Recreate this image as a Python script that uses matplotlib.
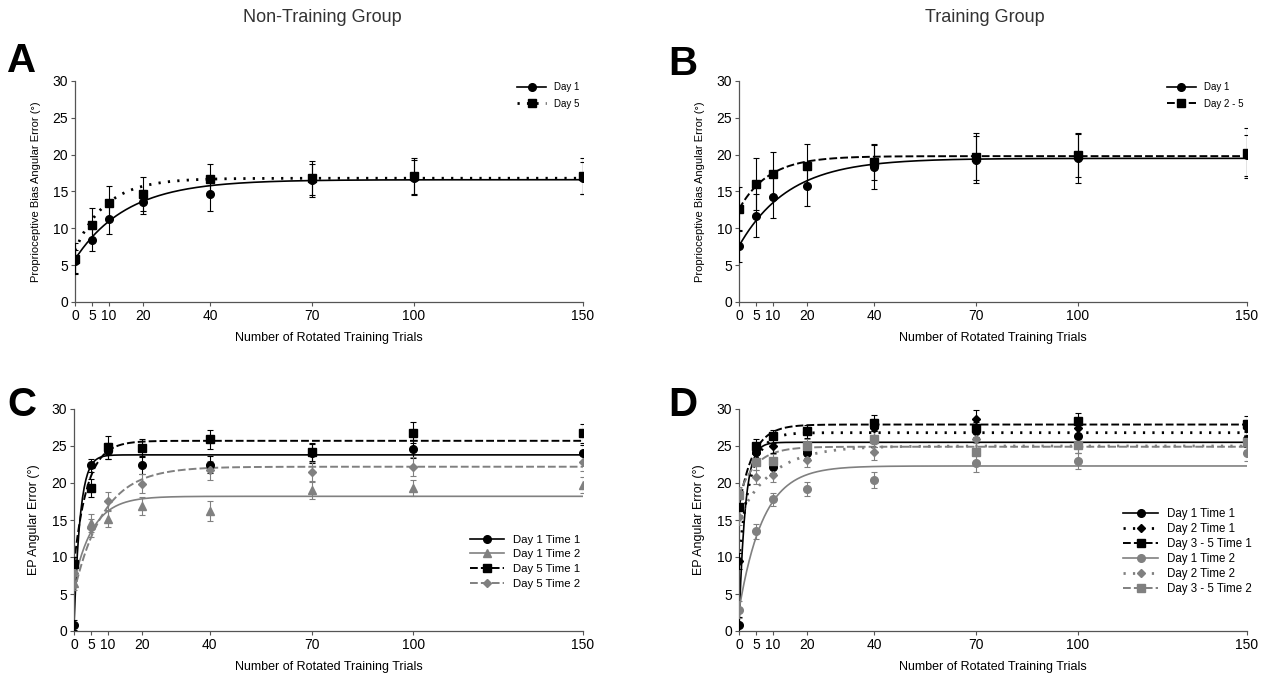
import matplotlib
matplotlib.use("Agg")
import matplotlib.pyplot as plt
import numpy as np

plt.rcParams["font.family"] = ["Liberation Sans", "DejaVu Sans"]

trials = [0, 5, 10, 20, 40, 70, 100, 150]

# panel A - non-training, proprioceptive bias
a_day1 = [5.5, 8.4, 11.3, 13.6, 14.6, 16.5, 16.9, 16.8]
a_day1_err = [1.5, 1.5, 2.1, 1.6, 2.3, 2.3, 2.4, 2.2]
a_day5 = [5.9, 10.4, 13.5, 14.7, 16.7, 16.8, 17.1, 17.1]
a_day5_err = [2.1, 2.3, 2.3, 2.3, 2.1, 2.3, 2.5, 2.5]

# panel B - training, proprioceptive bias
b_day1 = [7.6, 11.7, 14.3, 15.8, 18.3, 19.3, 19.5, 19.9]
b_day1_err = [2.2, 2.9, 2.9, 2.8, 3.0, 3.2, 3.4, 2.8]
b_day25 = [12.6, 16.0, 17.4, 18.5, 19.0, 19.7, 19.9, 20.2]
b_day25_err = [3.0, 3.5, 2.9, 2.9, 2.4, 3.2, 2.9, 3.4]

# panel C - non-training, EP error
c_d1t1 = [0.8, 22.4, 24.3, 22.4, 22.5, 24.0, 24.6, 24.0]
c_d1t1_err = [0.7, 0.9, 1.1, 1.2, 1.2, 1.3, 1.2, 1.2]
c_d1t2 = [6.5, 14.6, 15.1, 16.9, 16.2, 19.1, 19.3, 19.7]
c_d1t2_err = [1.0, 1.2, 1.1, 1.2, 1.4, 1.2, 1.1, 1.1]
c_d5t1 = [9.0, 19.3, 24.8, 24.7, 25.9, 24.2, 26.8, 26.7]
c_d5t1_err = [1.0, 1.2, 1.5, 1.2, 1.3, 1.2, 1.4, 1.3]
c_d5t2 = [7.8, 13.9, 17.6, 19.9, 21.7, 21.5, 22.2, 22.8]
c_d5t2_err = [1.1, 1.2, 1.2, 1.3, 1.3, 1.4, 1.3, 1.2]

# panel D - training, EP error
d_d1t1 = [0.8, 24.2, 22.2, 24.1, 25.9, 27.0, 26.3, 25.9]
d_d2t1 = [9.5, 24.0, 25.0, 24.3, 27.5, 28.7, 27.4, 27.5]
d_d35t1 = [16.8, 25.0, 26.3, 27.0, 28.1, 27.4, 28.4, 28.0]
d_d1t2 = [2.9, 13.5, 17.8, 19.2, 20.4, 22.7, 23.0, 24.0]
d_d2t2 = [15.4, 20.8, 21.1, 23.1, 24.2, 25.9, 25.2, 25.3]
d_d35t2 = [18.4, 22.8, 23.0, 25.0, 26.0, 24.2, 25.2, 25.5]
d_err = [1.1, 1.0, 0.9, 0.9, 1.1, 1.2, 1.1, 1.0]

# exponential fit parameters: (start, plateau, rate)
a_fits = [(5.8, 16.6, 0.065), (7.0, 16.8, 0.11)]
b_fits = [(7.6, 19.5, 0.068), (12.6, 19.8, 0.114)]
c_fits = [(0.8, 23.8, 0.55), (6.5, 18.2, 0.177), (9.0, 25.7, 0.25), (5.2, 22.2, 0.115)]
d_fits = [(0.7, 25.5, 0.55), (9.5, 26.8, 0.3), (16.7, 27.9, 0.24),
          (2.8, 22.3, 0.14), (15.3, 25.0, 0.1), (18.3, 24.9, 0.2)]

BLACK = "#000000"
GRAY = "#808080"
DOT = (0, (0.8, 2.6))
DASH = (0, (4, 1.6))
xs = np.linspace(0, 150, 600)


def fit_curve(p):
    y0, plat, k = p
    return plat - (plat - y0) * np.exp(-k * xs)


def series(ax, y, err, fit, color, marker, ls, lw, label, ms=5.5):
    ax.errorbar(trials, y, yerr=err, fmt=marker, color=color, ms=ms,
                elinewidth=0.8, capsize=2, capthick=0.8, zorder=3)
    ax.plot(xs, fit_curve(fit), color=color, ls=ls, lw=lw, zorder=2)
    ax.plot([], [], color=color, ls=ls, lw=lw, marker=marker, ms=ms, label=label)


def style(ax, ylabel, ylab_size):
    ax.set_xlim(0, 150)
    ax.set_ylim(0, 30)
    ax.set_xticks(trials)
    ax.set_yticks(range(0, 31, 5))
    for s in ["top", "right"]:
        ax.spines[s].set_visible(False)
    for s in ["left", "bottom"]:
        ax.spines[s].set_linewidth(0.9)
        ax.spines[s].set_color("#555555")
    ax.tick_params(length=3, width=0.8, color="#555555", labelsize=10, pad=2)
    ax.set_xlabel("Number of Rotated Training Trials", fontsize=9)
    ax.xaxis.set_label_coords(0.5, -0.135)
    ax.set_ylabel(ylabel, fontsize=ylab_size)
    ax.yaxis.set_label_coords(-0.066, 0.5)


fig = plt.figure(figsize=(12.62, 6.78), dpi=100)
W, H = 1262, 678


def make_axes(x0, x1, ytop, ybot):
    return fig.add_axes([x0 / W, 1 - ybot / H, (x1 - x0) / W, (ybot - ytop) / H])


axA = make_axes(75, 583, 81, 302)
axB = make_axes(739, 1247, 81, 302)
axC = make_axes(74, 583, 409, 631)
axD = make_axes(739, 1247, 409, 631)

series(axA, a_day1, a_day1_err, a_fits[0], BLACK, "o", "-", 1.2, "Day 1")
series(axA, a_day5, a_day5_err, a_fits[1], BLACK, "s", DOT, 2.0, "Day 5")
style(axA, "Proprioceptive Bias Angular Error (°)", 8)
axA.legend(loc="upper right", bbox_to_anchor=(1.01, 1.035), frameon=False,
           fontsize=7, handlelength=3, labelspacing=0.7)

series(axB, b_day1, b_day1_err, b_fits[0], BLACK, "o", "-", 1.2, "Day 1")
series(axB, b_day25, b_day25_err, b_fits[1], BLACK, "s", DASH, 1.4, "Day 2 - 5")
style(axB, "Proprioceptive Bias Angular Error (°)", 8)
axB.legend(loc="upper right", bbox_to_anchor=(1.01, 1.035), frameon=False,
           fontsize=7, handlelength=3, labelspacing=0.7)

series(axC, c_d1t1, c_d1t1_err, c_fits[0], BLACK, "o", "-", 1.2, "Day 1 Time 1")
series(axC, c_d1t2, c_d1t2_err, c_fits[1], GRAY, "^", "-", 1.2, "Day 1 Time 2")
series(axC, c_d5t1, c_d5t1_err, c_fits[2], BLACK, "s", DASH, 1.4, "Day 5 Time 1")
series(axC, c_d5t2, c_d5t2_err, c_fits[3], GRAY, "D", DASH, 1.4, "Day 5 Time 2", ms=4.5)
style(axC, "EP Angular Error (°)", 9)
axC.legend(loc="upper right", bbox_to_anchor=(1.015, 0.48), frameon=False,
           fontsize=8.2, handlelength=3, labelspacing=0.42)

series(axD, d_d1t1, d_err, d_fits[0], BLACK, "o", "-", 1.2, "Day 1 Time 1")
series(axD, d_d2t1, d_err, d_fits[1], BLACK, "D", DOT, 2.0, "Day 2 Time 1", ms=4.5)
series(axD, d_d35t1, d_err, d_fits[2], BLACK, "s", DASH, 1.4, "Day 3 - 5 Time 1")
series(axD, d_d1t2, d_err, d_fits[3], GRAY, "o", "-", 1.2, "Day 1 Time 2")
series(axD, d_d2t2, d_err, d_fits[4], GRAY, "D", DOT, 2.0, "Day 2 Time 2", ms=4.5)
series(axD, d_d35t2, d_err, d_fits[5], GRAY, "s", DASH, 1.4, "Day 3 - 5 Time 2")
style(axD, "EP Angular Error (°)", 9)
axD.legend(loc="upper right", bbox_to_anchor=(1.03, 0.6), frameon=False,
           fontsize=8.3, handlelength=3, labelspacing=0.25)

fig.text(322 / W, 1 - 18 / H, "Non-Training Group", fontsize=13, ha="center", va="center", color="#333333")
fig.text(985 / W, 1 - 18 / H, "Training Group", fontsize=13, ha="center", va="center", color="#333333")
for letter, x, y in [("A", 7, 61), ("B", 668, 64), ("C", 7, 405), ("D", 668, 405)]:
    fig.text(x / W, 1 - y / H, letter, fontsize=29, fontweight="bold", va="center", ha="left")

fig.savefig("out.png", dpi=100)
